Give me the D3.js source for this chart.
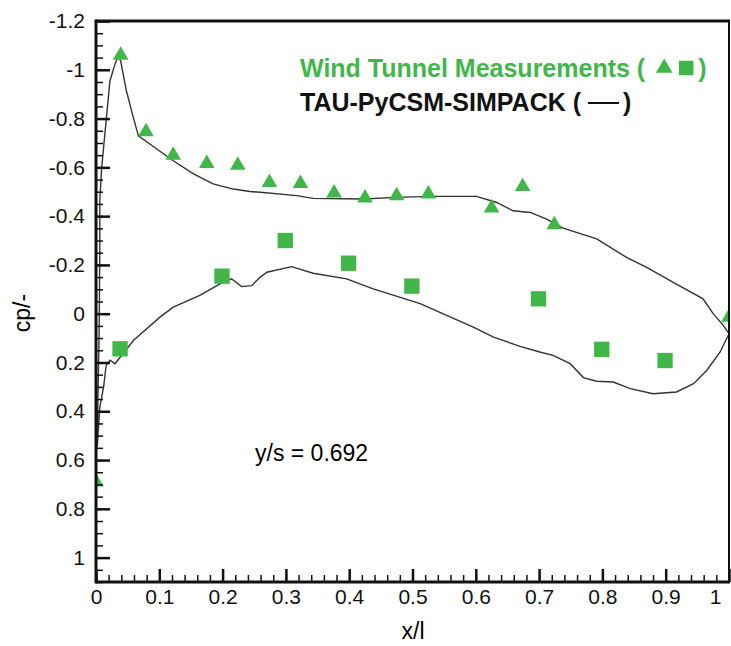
<!DOCTYPE html>
<html lang="en">
<head>
    <meta charset="UTF-8">
    <title>cp distribution y/s = 0.692</title>
    <script src="https://d3js.org/d3.v7.min.js"></script>
    <style>
        body {
            margin: 0;
            background-color: white;
            font-family: Arial, "Liberation Sans", sans-serif;
        }
        .tick text {
            font-family: Arial, "Liberation Sans", sans-serif;
            fill: #111;
        }
    </style>
</head>
<body>
    <div id="chart"></div>

    <script>
        // tick labels
        const xTicks = [0, 0.1, 0.2, 0.3, 0.4, 0.5, 0.6, 0.7, 0.8, 0.9, 1];
        const yTicks = [-1.2, -1, -0.8, -0.6, -0.4, -0.2, 0, 0.2, 0.4, 0.6, 0.8, 1];

        // wind tunnel, upper surface (triangles)
        const triX  = [0.000, 0.039, 0.079, 0.122, 0.175, 0.224, 0.274, 0.323, 0.376, 0.425, 0.475, 0.525, 0.625, 0.674, 0.724, 1.000];
        const triCp = [0.69, -1.06, -0.746, -0.650, -0.616, -0.609, -0.538, -0.534, -0.495, -0.474, -0.484, -0.491, -0.433, -0.521, -0.365, 0.015];

        // wind tunnel, lower surface (squares)
        const sqX  = [0.038, 0.199, 0.299, 0.399, 0.499, 0.699, 0.799, 0.899];
        const sqCp = [0.144, -0.154, -0.300, -0.207, -0.113, -0.061, 0.146, 0.192];

        // TAU-PyCSM-SIMPACK, upper surface from leading edge to trailing edge
        const cfdUpperX  = [0.002, 0.003, 0.005, 0.006, 0.006, 0.009, 0.014, 0.018, 0.022, 0.030, 0.035, 0.039, 0.048, 0.059, 0.067, 0.096, 0.122, 0.154, 0.185, 0.217, 0.243, 0.264, 0.317, 0.343, 0.422, 0.475, 0.528, 0.601, 0.633, 0.659, 0.686, 0.712, 0.738, 0.791, 0.838, 0.870, 0.907, 0.959, 0.975, 0.991, 1.000];
        const cfdUpperCp = [0.546, 0.355, 0.069, -0.259, -0.463, -0.600, -0.736, -0.845, -0.954, -1.023, -1.057, -1.036, -0.914, -0.804, -0.729, -0.675, -0.627, -0.573, -0.532, -0.511, -0.501, -0.497, -0.484, -0.473, -0.470, -0.477, -0.481, -0.481, -0.456, -0.422, -0.415, -0.388, -0.351, -0.307, -0.231, -0.190, -0.136, -0.061, 0.000, 0.048, 0.082];

        // lower surface from trailing edge back to leading edge
        const cfdLowerX  = [0.986, 0.965, 0.944, 0.917, 0.880, 0.844, 0.817, 0.791, 0.770, 0.749, 0.722, 0.701, 0.670, 0.628, 0.596, 0.512, 0.438, 0.396, 0.343, 0.309, 0.270, 0.259, 0.246, 0.230, 0.214, 0.196, 0.164, 0.122, 0.101, 0.059, 0.030, 0.022, 0.016, 0.012, 0.006, 0.004, 0.002];
        const cfdLowerCp = [0.157, 0.232, 0.287, 0.321, 0.328, 0.307, 0.280, 0.277, 0.262, 0.205, 0.171, 0.157, 0.134, 0.096, 0.055, -0.041, -0.102, -0.143, -0.166, -0.193, -0.170, -0.149, -0.115, -0.111, -0.143, -0.122, -0.075, -0.027, 0.014, 0.110, 0.205, 0.191, 0.212, 0.301, 0.383, 0.464, 0.546];

        const green = "#41b649";
        const width = 731;
        const height = 646;
        const plot = { left: 96, right: 729, top: 21, bottom: 582 };

        const svg = d3.select("#chart").append("svg")
            .attr("width", width)
            .attr("height", height);

        const x = d3.scaleLinear().domain([0, 1]).range([plot.left, plot.right]);
        const y = d3.scaleLinear().domain([-1.2, 1.1]).range([plot.top, plot.bottom]);

        svg.append("clipPath").attr("id", "clip")
            .append("rect")
            .attr("x", plot.left).attr("y", plot.top)
            .attr("width", plot.right - plot.left)
            .attr("height", plot.bottom - plot.top);

        const inner = svg.append("g").attr("clip-path", "url(#clip)");

        // simulation curve, one closed loop
        const cfd = cfdUpperX.map((v, i) => [v, cfdUpperCp[i]])
            .concat(cfdLowerX.map((v, i) => [v, cfdLowerCp[i]]));

        inner.append("path")
            .datum(cfd)
            .attr("fill", "none")
            .attr("stroke", "#333")
            .attr("stroke-width", 1.4)
            .attr("d", d3.line().x(d => x(d[0])).y(d => y(d[1])));

        // measurements
        inner.selectAll(".tri")
            .data(triX.map((v, i) => [v, triCp[i]]))
            .enter().append("path")
            .attr("class", "tri")
            .attr("fill", green)
            .attr("transform", d => `translate(${x(d[0])},${y(d[1])})`)
            .attr("d", d3.symbol(d3.symbolTriangle, 105));

        inner.selectAll(".sq")
            .data(sqX.map((v, i) => [v, sqCp[i]]))
            .enter().append("path")
            .attr("class", "sq")
            .attr("fill", green)
            .attr("transform", d => `translate(${x(d[0])},${y(d[1])})`)
            .attr("d", d3.symbol(d3.symbolSquare, 235));

        const fmt = d => String(+d.toFixed(2));

        // axes: inward ticks, minor ticks drawn separately
        const xMinor = d3.range(0, 1.001, 0.02);
        const yMinor = d3.range(-1.2, 1.101, 0.05);

        svg.append("g")
            .attr("transform", `translate(0,${plot.bottom})`)
            .call(d3.axisBottom(x).tickValues(xMinor).tickSize(-7).tickFormat(""))
            .call(g => g.select(".domain").remove())
            .selectAll("line").attr("stroke", "#111").attr("stroke-width", 1.5);

        svg.append("g")
            .attr("transform", `translate(${plot.left},0)`)
            .call(d3.axisLeft(y).tickValues(yMinor).tickSize(-7).tickFormat(""))
            .call(g => g.select(".domain").remove())
            .selectAll("line").attr("stroke", "#111").attr("stroke-width", 1.5);

        const xAxis = svg.append("g")
            .attr("transform", `translate(0,${plot.bottom})`)
            .call(d3.axisBottom(x).tickValues(xTicks).tickSize(-13).tickPadding(7).tickFormat(fmt));
        xAxis.select(".domain").remove();
        xAxis.selectAll("line").attr("stroke", "#111").attr("stroke-width", 2.5);
        xAxis.selectAll("text").style("font-size", "21px");
        // last label sits inside the picture edge
        xAxis.selectAll("text").filter(d => d === 1)
            .attr("text-anchor", "end").attr("dx", -8);

        const yAxis = svg.append("g")
            .attr("transform", `translate(${plot.left},0)`)
            .call(d3.axisLeft(y).tickValues(yTicks).tickSize(-14).tickPadding(11).tickFormat(fmt));
        yAxis.select(".domain").remove();
        yAxis.selectAll("line").attr("stroke", "#111").attr("stroke-width", 2.5);
        yAxis.selectAll("text").style("font-size", "21px");

        // frame
        svg.append("line")
            .attr("x1", plot.left).attr("x2", plot.right + 1)
            .attr("y1", plot.top).attr("y2", plot.top)
            .attr("stroke", "#111").attr("stroke-width", 3);
        svg.append("line")
            .attr("x1", plot.right).attr("x2", plot.right)
            .attr("y1", plot.top).attr("y2", plot.bottom)
            .attr("stroke", "#111").attr("stroke-width", 2);
        svg.append("line")
            .attr("x1", plot.left).attr("x2", plot.left)
            .attr("y1", plot.top - 1.5).attr("y2", plot.bottom + 1.5)
            .attr("stroke", "#111").attr("stroke-width", 3);
        svg.append("line")
            .attr("x1", plot.left).attr("x2", plot.right + 1)
            .attr("y1", plot.bottom).attr("y2", plot.bottom)
            .attr("stroke", "#111").attr("stroke-width", 3);

        // axis titles
        svg.append("text")
            .attr("x", 413).attr("y", 639)
            .attr("text-anchor", "middle")
            .style("font-size", "23px")
            .text("x/l");

        svg.append("text")
            .attr("transform", "translate(30,313) rotate(-90)")
            .attr("text-anchor", "middle")
            .style("font-size", "23px")
            .text("cp/-");

        svg.append("text")
            .attr("x", 255).attr("y", 461)
            .style("font-size", "23px")
            .text("y/s = 0.692");

        // legend
        const leg1 = svg.append("text")
            .attr("x", 300).attr("y", 77)
            .attr("fill", green)
            .style("font-size", "25px").style("font-weight", "bold")
            .text("Wind Tunnel Measurements (");
        const end1 = 300 + leg1.node().getComputedTextLength();
        svg.append("path")
            .attr("fill", green)
            .attr("transform", `translate(${end1 + 19},${68})`)
            .attr("d", d3.symbol(d3.symbolTriangle, 120));
        svg.append("path")
            .attr("fill", green)
            .attr("transform", `translate(${end1 + 41},${68})`)
            .attr("d", d3.symbol(d3.symbolSquare, 210));
        svg.append("text")
            .attr("x", end1 + 53).attr("y", 77)
            .attr("fill", green)
            .style("font-size", "25px").style("font-weight", "bold")
            .text(")");

        const leg2 = svg.append("text")
            .attr("x", 300).attr("y", 111)
            .attr("fill", "#111")
            .style("font-size", "25px").style("font-weight", "bold")
            .text("TAU-PyCSM-SIMPACK (");
        const end2 = 300 + leg2.node().getComputedTextLength();
        svg.append("line")
            .attr("x1", end2 + 7).attr("x2", end2 + 38)
            .attr("y1", 103).attr("y2", 103)
            .attr("stroke", "#111").attr("stroke-width", 2);
        svg.append("text")
            .attr("x", end2 + 42).attr("y", 111)
            .attr("fill", "#111")
            .style("font-size", "25px").style("font-weight", "bold")
            .text(")");
    </script>
</body>
</html>
